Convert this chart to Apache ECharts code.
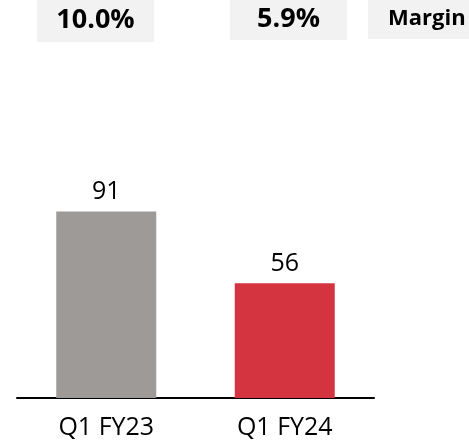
<!DOCTYPE html>
<html>
<head>
<meta charset="utf-8">
<script src="https://cdn.jsdelivr.net/npm/echarts@6/dist/echarts.min.js"></script>
<style>
  html, body { margin: 0; padding: 0; background: #fff; }
  #chart { width: 469px; height: 443px; }
</style>
</head>
<body>
<div id="chart"></div>
<script>
// data
const categories = ['Q1 FY23', 'Q1 FY24']
const values = [91, 56]
const barColors = ['#9e9a98', '#d3343f']
// header boxes across the top
const headerTexts = ['10.0%', '5.9%', 'Margin']

const FONT = '"Open Sans", sans-serif'

const chart = echarts.init(document.getElementById('chart'))

// header boxes: x, width, height of each grey box
const boxes = [
  { x: 37, w: 117, h: 42, size: 27 },
  { x: 230, w: 117, h: 40, size: 27 },
  { x: 368, w: 110, h: 39, size: 22 }
]
const graphics = []
headerTexts.forEach((t, i) => {
  const b = boxes[i]
  graphics.push({
    type: 'rect',
    shape: { x: b.x, y: 0, width: b.w, height: b.h },
    style: { fill: '#f2f2f2' },
    silent: true
  })
  graphics.push({
    type: 'text',
    x: i === 2 ? b.x + 20 : b.x + b.w / 2,
    y: b.h / 2 - 1,
    style: {
      text: t,
      fontFamily: FONT,
      fontWeight: 'bold',
      fontSize: b.size,
      fill: '#000',
      align: i === 2 ? 'left' : 'center',
      verticalAlign: 'middle'
    },
    silent: true
  })
})

const option = {
  animation: false,
  graphic: graphics,
  grid: {
    left: 17,
    right: 95,
    top: 193,
    bottom: 45
  },
  xAxis: {
    type: 'category',
    data: categories,
    axisLine: { show: true, lineStyle: { color: '#000', width: 2 } },
    axisTick: { show: false },
    axisLabel: {
      color: '#000',
      fontFamily: FONT,
      fontSize: 25,
      margin: 17
    }
  },
  yAxis: {
    type: 'value',
    min: 0,
    max: 100,
    show: false,
    splitLine: { show: false }
  },
  series: [
    {
      type: 'bar',
      data: values.map((v, i) => ({ value: v, itemStyle: { color: barColors[i] } })),
      barWidth: 100,
      label: {
        show: true,
        position: 'top',
        distance: 7,
        color: '#000',
        fontFamily: FONT,
        fontSize: 25
      }
    }
  ]
}
chart.setOption(option)
</script>
</body>
</html>
